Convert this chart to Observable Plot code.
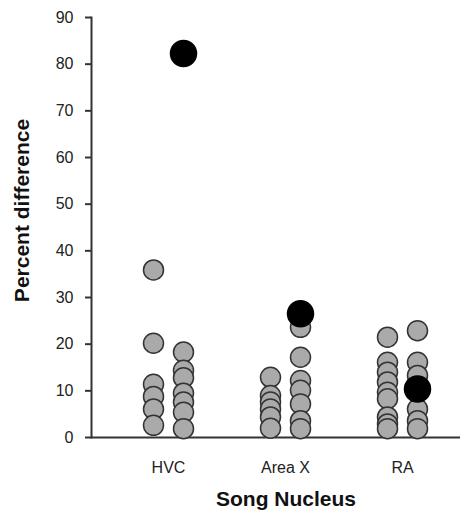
<!DOCTYPE html>
<html>
<head>
<meta charset="utf-8">
<script src="https://cdn.jsdelivr.net/npm/d3@7"></script>
<script src="https://cdn.jsdelivr.net/npm/@observablehq/plot@0.6"></script>
<style>
  html, body { margin: 0; padding: 0; background: #fff; }
  svg { display: block; }
</style>
</head>
<body>
<div id="chart"></div>
<script>
const nuclei = ["HVC", "Area X", "RA"];
const yTicks = [0, 10, 20, 30, 40, 50, 60, 70, 80, 90];

// left (gray) column per nucleus
const leftHVC = [35.9, 20.2, 11.4, 8.8, 6.1, 2.6];
const leftAreaX = [12.9, 9.0, 7.6, 6.1, 4.4, 2.0];
const leftRA = [21.5, 16.1, 14.0, 11.9, 9.7, 8.3, 4.4, 2.9, 1.9];

// right (gray) column per nucleus
const rightHVC = [18.3, 14.4, 12.8, 9.5, 7.6, 5.4, 1.9];
const rightAreaX = [23.6, 17.2, 12.2, 10.1, 7.2, 3.6, 1.9];
const rightRA = [22.9, 16.1, 13.3, 6.1, 3.6, 1.9];

// black points (right column)
const blackValues = [82.3, 26.5, 10.4];

const leftRows = [leftHVC, leftAreaX, leftRA].flatMap((vals, i) =>
  vals.map(v => ({nucleus: nuclei[i], value: v}))).sort((a, b) => b.value - a.value);
const rightRows = [rightHVC, rightAreaX, rightRA].flatMap((vals, i) =>
  vals.map(v => ({nucleus: nuclei[i], value: v}))).sort((a, b) => b.value - a.value);
const blackRows = blackValues.map((v, i) => ({nucleus: nuclei[i], value: v}));

const chart = Plot.plot({
  width: 463,
  height: 519,
  marginLeft: 91,
  marginRight: 3,
  marginTop: 17,
  marginBottom: 82,
  style: {fontFamily: "Liberation Sans, Arial, sans-serif", color: "#222", background: "#fff"},
  x: {type: "point", domain: nuclei, padding: 0, insetLeft: 77, insetRight: 58},
  y: {domain: [0, 90]},
  marks: [
    Plot.axisY({ticks: yTicks, tickSize: 6, tickPadding: 12, fontSize: 16, label: null, stroke: "#333", strokeWidth: 2}),
    Plot.axisX({tickSize: 0, tickPadding: 24, fontSize: 16, label: null}),
    Plot.frame({anchor: "left", stroke: "#333", strokeWidth: 2}),
    Plot.ruleY([0], {stroke: "#333", strokeWidth: 2}),
    Plot.dot(leftRows, {x: "nucleus", y: "value", dx: -15, r: 10, fill: "#aaaaaa", stroke: "#333", strokeWidth: 1.5}),
    Plot.dot(rightRows, {x: "nucleus", y: "value", dx: 15, r: 10, fill: "#aaaaaa", stroke: "#333", strokeWidth: 1.5}),
    Plot.dot(blackRows, {x: "nucleus", y: "value", dx: 15, r: 13, fill: "#000", stroke: "#000"}),
    Plot.text(["Song Nucleus"], {frameAnchor: "bottom", dx: 10, dy: 68, fontSize: 21, fontWeight: "bold", fill: "#111"}),
    Plot.text(["Percent difference"], {frameAnchor: "left", textAnchor: "middle", dx: -69, dy: -17, rotate: -90, fontSize: 21, fontWeight: "bold", fill: "#111"})
  ]
});
document.getElementById("chart").appendChild(chart);
</script>
</body>
</html>
